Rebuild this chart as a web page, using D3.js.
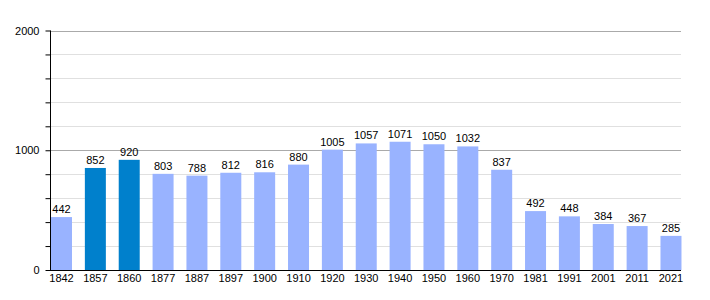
<!DOCTYPE html>
<html><head><meta charset="utf-8">
<script src="https://cdn.jsdelivr.net/npm/d3@7"></script>
<style>body{margin:0;background:#fff}svg{display:block}text{font-family:"Liberation Sans",Arial,sans-serif;font-size:11px;fill:#000}</style>
</head><body><svg id="c" width="710" height="300"></svg>
<script>
const years = ["1842","1857","1860","1877","1887","1897","1900","1910","1920","1930","1940","1950","1960","1970","1981","1991","2001","2011","2021"];
const population = [442,852,920,803,788,812,816,880,1005,1057,1071,1050,1032,837,492,448,384,367,285];
const highlighted = ["1857","1860"];
const majorTicks = [0,1000,2000];
const minorTicks = [200,400,600,800,1200,1400,1600,1800];

(function(){
const svg = d3.select("#c");
const pLeft = 50, pRight = 681, pTop = 30.5, pBottom = 270;
const y = d3.scaleLinear().domain([0,2000]).range([pBottom, pTop]);
const step = 33.86, bw = 21;
const x = d3.scaleBand().domain(years).range([51, 51 + step*(years.length-1) + bw]).paddingInner(1 - bw/step).paddingOuter(0).align(0);

// minor gridlines
svg.append("g").selectAll("line").data(minorTicks).join("line")
  .attr("x1", pLeft).attr("x2", pRight)
  .attr("y1", d => Math.round(y(d)) + 0.5).attr("y2", d => Math.round(y(d)) + 0.5)
  .attr("stroke", "#e0e0e0").attr("stroke-width", 1);
// major gridlines
svg.append("g").selectAll("line").data(majorTicks.filter(d => d > 0)).join("line")
  .attr("x1", pLeft).attr("x2", pRight)
  .attr("y1", d => Math.round(y(d)) + 0.5).attr("y2", d => Math.round(y(d)) + 0.5)
  .attr("stroke", "#aaaaaa").attr("stroke-width", 1);

// bars
svg.append("g").selectAll("rect").data(years).join("rect")
  .attr("x", d => x(d)).attr("width", x.bandwidth())
  .attr("y", (d,i) => y(population[i])).attr("height", (d,i) => pBottom - y(population[i]))
  .attr("fill", d => highlighted.includes(d) ? "#0080cc" : "#99b3ff");

// value labels
svg.append("g").selectAll("text").data(years).join("text")
  .attr("x", d => x(d) + x.bandwidth()/2)
  .attr("y", (d,i) => y(population[i]) - 4)
  .attr("text-anchor", "middle")
  .text((d,i) => population[i]);

// axes
const yAxis = d3.axisLeft(y).tickValues(majorTicks.concat(minorTicks)).tickSize(5)
  .tickFormat(d => majorTicks.includes(d) ? d : "");
const gy = svg.append("g").attr("transform", `translate(${pLeft + 0.5},0)`).call(yAxis);
gy.select(".domain").attr("d", `M0,${pTop}V${pBottom + 0.5}`).attr("stroke", "#000");
gy.selectAll(".tick line").attr("stroke", "#000");
gy.selectAll(".tick text").attr("font-size", 11).attr("font-family", "Liberation Sans, Arial, sans-serif").attr("fill", "#000").attr("x", -11);

const xAxis = d3.axisBottom(x).tickSize(0).tickPadding(4);
const gx = svg.append("g").attr("transform", `translate(0,${pBottom + 0.5})`).call(xAxis);
gx.select(".domain").attr("d", `M${pLeft},0H${pRight}`).attr("stroke", "#000");
gx.selectAll(".tick text").attr("font-size", 11).attr("font-family", "Liberation Sans, Arial, sans-serif").attr("fill", "#000");
})();
</script></body></html>
